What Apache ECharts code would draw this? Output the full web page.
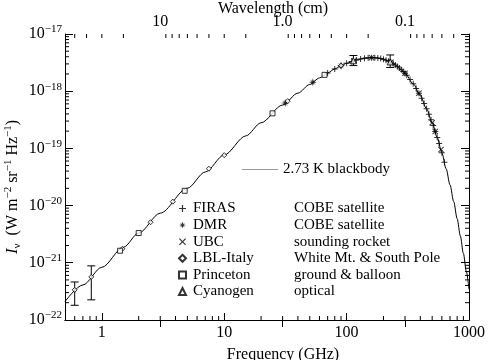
<!DOCTYPE html>
<html>
<head>
<meta charset="utf-8">
<script src="https://cdn.jsdelivr.net/npm/echarts@6/dist/echarts.min.js"></script>
<style>html,body{margin:0;padding:0;background:#fff}#main{width:488px;height:360px}</style>
</head>
<body>
<div id="main"></div>
<script>
// 2.73 K blackbody curve (GHz, W m^-2 sr^-1 Hz^-1)
const curveFreq = [0.5, 0.7, 1, 1.5, 2, 3, 5, 7, 10, 15, 20, 30, 40, 50, 60, 70, 80, 90, 100, 120, 140, 160, 180, 200, 220, 250, 280, 300, 350, 400, 450, 500, 550, 600, 650, 700, 750, 800, 850, 900, 950, 1000];
const curveIntensity = [2.09e-22, 4.08e-22, 8.31e-22, 1.86e-21, 3.30e-21, 7.35e-21, 2.01e-20, 3.86e-20, 7.67e-20, 1.65e-19, 2.80e-19, 5.73e-19, 9.25e-19, 1.309e-18, 1.702e-18, 2.087e-18, 2.450e-18, 2.780e-18, 3.071e-18, 3.517e-18, 3.774e-18, 3.857e-18, 3.792e-18, 3.613e-18, 3.353e-18, 2.878e-18, 2.374e-18, 2.050e-18, 1.348e-18, 8.35e-19, 4.93e-19, 2.81e-19, 1.55e-19, 8.36e-20, 4.41e-20, 2.29e-20, 1.17e-20, 5.89e-21, 2.93e-21, 1.45e-21, 7.07e-22, 3.42e-22];

const firasFreq = [70, 80, 90, 100, 110, 120, 130, 140, 150, 160, 170, 180, 190, 200, 210, 220, 230, 240, 250, 260, 270, 280, 290, 300, 310, 330, 350, 370, 390, 410, 430, 450, 470, 490, 510, 530, 550, 570, 600, 630];
const firasIntensity = [2.087e-18, 2.450e-18, 2.780e-18, 3.071e-18, 3.317e-18, 3.517e-18, 3.668e-18, 3.774e-18, 3.837e-18, 3.857e-18, 3.841e-18, 3.792e-18, 3.715e-18, 3.613e-18, 3.491e-18, 3.353e-18, 3.202e-18, 3.043e-18, 2.878e-18, 2.710e-18, 2.541e-18, 2.374e-18, 2.210e-18, 2.050e-18, 1.896e-18, 1.607e-18, 1.348e-18, 1.119e-18, 9.22e-19, 7.53e-19, 6.11e-19, 4.93e-19, 3.95e-19, 3.15e-19, 2.50e-19, 1.97e-19, 1.55e-19, 1.21e-19, 8.36e-20, 5.71e-20];

const dmrFreq = [31.5, 53, 90];
const dmrIntensity = [6.23e-19, 1.43e-18, 2.78e-18];

const ubcFreq = [115, 160, 230, 300, 390, 500, 530, 590];
const ubcIntensity = [3.40e-18, 3.86e-18, 3.20e-18, 2.05e-18, 9.2e-19, 2.8e-19, 1.97e-19, 9.5e-20];

const lblFreq = [0.6, 0.82, 1.47, 2.5, 3.8, 7.5, 10, 33, 90];
const lblIntensity = [3.35e-22, 5.65e-22, 1.75e-21, 5.1e-21, 1.17e-20, 4.4e-20, 7.6e-20, 6.7e-19, 2.8e-18];

const princetonFreq = [1.41, 2.0, 4.75, 24.8, 66];
const princetonIntensity = [1.62e-21, 3.3e-21, 1.81e-20, 4.1e-19, 1.93e-18];

const cyanogenFreq = [113.6, 227];
const cyanogenIntensity = [3.4e-18, 3.25e-18];

// error bars
const errFreq = [0.6, 0.82, 113.6, 227];
const errLow = [1.8e-22, 2.24e-22, 2.8e-18, 2.6e-18];
const errHigh = [4.6e-22, 8.8e-22, 4.2e-18, 4.3e-18];

const datasetNames = ['FIRAS', 'DMR', 'UBC', 'LBL-Italy', 'Princeton', 'Cyanogen'];
const datasetNotes = ['COBE satellite', 'COBE satellite', 'sounding rocket', 'White Mt. & South Pole', 'ground & balloon', 'optical'];

// minor ticks
const freqMinorTicks = [0.6, 0.7, 0.8, 0.9, 2, 3, 4, 5, 6, 7, 8, 9, 20, 30, 40, 50, 60, 70, 80, 90, 200, 300, 400, 500, 600, 700, 800, 900];
const waveMinorTicks = [50, 40, 30, 20, 9, 8, 7, 6, 5, 4, 3, 2, 0.9, 0.8, 0.7, 0.6, 0.5, 0.4, 0.3, 0.2, 0.09, 0.08, 0.07, 0.06, 0.05, 0.04];
const intensityMinorTicks = [
    2e-22, 3e-22, 4e-22, 5e-22, 6e-22, 7e-22, 8e-22, 9e-22,
    2e-21, 3e-21, 4e-21, 5e-21, 6e-21, 7e-21, 8e-21, 9e-21,
    2e-20, 3e-20, 4e-20, 5e-20, 6e-20, 7e-20, 8e-20, 9e-20,
    2e-19, 3e-19, 4e-19, 5e-19, 6e-19, 7e-19, 8e-19, 9e-19,
    2e-18, 3e-18, 4e-18, 5e-18, 6e-18, 7e-18, 8e-18, 9e-18
];

const font = 'Liberation Serif';

function zip(a, b) {
    return a.map((v, i) => [v, b[i]]);
}

const plusPath = 'path://M5,0H7V5H12V7H7V12H5V7H0V5H5Z';
const crossPath = 'path://M0,1.4L1.4,0L6,4.6L10.6,0L12,1.4L7.4,6L12,10.6L10.6,12L6,7.4L1.4,12L0,10.6L4.6,6Z';
const starPath = 'path://M6,0L7.2,4.2L10.6,1.4L7.8,4.8L12,6L7.8,7.2L10.6,10.6L7.2,7.8L6,12L4.8,7.8L1.4,10.6L4.2,7.2L0,6L4.2,4.8L1.4,1.4L4.8,4.2Z';
const hollow = {color: '#fff', borderColor: '#000', borderWidth: 1};

var myChart = echarts.init(document.getElementById('main'));

function tickLine(x1, y1, x2, y2) {
    return {type: 'line', shape: {x1: x1, y1: y1, x2: x2, y2: y2}, style: {stroke: '#000', lineWidth: 1}};
}

var option = {
    backgroundColor: '#fff',
    animation: false,
    grid: {left: 65, right: 19, top: 34, bottom: 40, outerBoundsMode: 'none'},
    legend: [{
        data: [{name: '2.73 K blackbody', icon: 'rect', itemStyle: {color: '#999'}}],
        left: 237, top: 157,
        itemWidth: 36, itemHeight: 1,
        textStyle: {fontFamily: font, fontSize: 15, color: '#000'}
    }, {
        data: datasetNames,
        orient: 'vertical',
        left: 178, top: 201,
        padding: 0,
        itemWidth: 7, itemHeight: 7, itemGap: 1.6,
        formatter: name => '{n|' + name + '}{d|' + datasetNotes[datasetNames.indexOf(name)] + '}',
        textStyle: {
            fontFamily: font, fontSize: 15, color: '#000',
            rich: {
                n: {width: 101, fontFamily: font, fontSize: 15, lineHeight: 16, padding: [0, 0, 0, 2]},
                d: {fontFamily: font, fontSize: 15, lineHeight: 16}
            }
        }
    }],
    xAxis: [{
        type: 'log', logBase: 10, min: 0.5, max: 1000,
        position: 'bottom',
        name: 'Frequency (GHz)', nameLocation: 'middle', nameGap: 27, nameMoveOverlap: false,
        nameTextStyle: {fontFamily: font, fontSize: 16, color: '#000', padding: [0, 0, 0, 32]},
        axisLine: {lineStyle: {color: '#000', width: 1}},
        axisTick: {inside: true, length: 7, lineStyle: {color: '#000'}},
        axisLabel: {fontFamily: font, fontSize: 16, color: '#000', margin: 5, showMinLabel: false, showMaxLabel: true,
            formatter: v => String(Math.round(v))},
        splitLine: {show: false}
    }, {
        type: 'log', logBase: 10, min: 0.03, max: 60, inverse: true,
        position: 'top',
        name: 'Wavelength (cm)', nameLocation: 'middle', nameGap: 17, nameMoveOverlap: false,
        nameTextStyle: {fontFamily: font, fontSize: 16, color: '#000', padding: [0, 0, 0, 12]},
        axisLine: {lineStyle: {color: '#000', width: 1}},
        axisTick: {inside: true, length: 7, lineStyle: {color: '#000'}},
        axisLabel: {fontFamily: font, fontSize: 16, color: '#000', margin: 4, showMinLabel: false, showMaxLabel: false,
            formatter: v => v >= 10 ? String(Math.round(v)) : v.toFixed(1)},
        splitLine: {show: false}
    }],
    yAxis: [{
        type: 'log', logBase: 10, min: 0.995e-22, max: 1e-17,
        position: 'left',
        name: '{i|I}{s|ν}  (W m{e|−2} sr{e|−1} Hz{e|−1})',
        nameLocation: 'middle', nameGap: 42, nameMoveOverlap: false,
        nameTextStyle: {
            fontFamily: font, fontSize: 16, color: '#000', padding: [0, 20, 0, 0],
            rich: {
                i: {fontFamily: font, fontSize: 17, fontStyle: 'italic'},
                s: {fontFamily: font, fontSize: 11, verticalAlign: 'top', padding: [9, 0, 0, 0]},
                e: {fontFamily: font, fontSize: 11, verticalAlign: 'bottom', padding: [0, 0, 9, 0]}
            }
        },
        axisLine: {lineStyle: {color: '#000', width: 1}},
        axisTick: {inside: true, length: 8, lineStyle: {color: '#000'}},
        axisLabel: {
            fontFamily: font, fontSize: 16, color: '#000', margin: 3,
            showMinLabel: false, showMaxLabel: true,
            formatter: v => '10{e|−' + (-Math.round(Math.log10(v))) + '}',
            rich: {e: {fontFamily: font, fontSize: 11, verticalAlign: 'bottom', padding: [0, 0, 9, 0]}}
        },
        splitLine: {show: false}
    }, {
        type: 'log', logBase: 10, min: 0.995e-22, max: 1e-17,
        position: 'right',
        axisLine: {lineStyle: {color: '#000', width: 1}},
        axisTick: {inside: true, length: 8, lineStyle: {color: '#000'}},
        axisLabel: {show: false},
        splitLine: {show: false}
    }],
    series: [{
        name: '2.73 K blackbody',
        type: 'line',
        data: zip(curveFreq, curveIntensity),
        symbol: 'none',
        smooth: 0.3,
        smoothMonotone: 'x',
        lineStyle: {color: '#000', width: 1},
        itemStyle: {color: '#000'},
        z: 2
    }, {
        name: 'FIRAS', type: 'scatter', data: zip(firasFreq, firasIntensity),
        symbol: plusPath, symbolSize: 6, itemStyle: {color: '#000'}, z: 3
    }, {
        name: 'DMR', type: 'scatter', data: zip(dmrFreq, dmrIntensity),
        symbol: starPath, symbolSize: 8, itemStyle: {color: '#000'}, z: 3
    }, {
        name: 'UBC', type: 'scatter', data: zip(ubcFreq, ubcIntensity),
        symbol: crossPath, symbolSize: 6, itemStyle: {color: '#000'}, z: 3
    }, {
        name: 'LBL-Italy', type: 'scatter', data: zip(lblFreq, lblIntensity),
        symbol: 'diamond', symbolSize: 5, itemStyle: hollow, z: 4
    }, {
        name: 'Princeton', type: 'scatter', data: zip(princetonFreq, princetonIntensity),
        symbol: 'rect', symbolSize: 5, itemStyle: hollow, z: 4
    }, {
        name: 'Cyanogen', type: 'scatter', data: zip(cyanogenFreq, cyanogenIntensity),
        symbol: 'triangle', symbolSize: 6, itemStyle: hollow, z: 4
    }, {
        type: 'custom', silent: true, z: 3,
        data: errFreq.map((f, i) => [f, errLow[i], errHigh[i]]),
        encode: {x: 0, y: [1, 2]},
        renderItem: function (params, api) {
            const lo = api.coord([api.value(0), api.value(1)]);
            const hi = api.coord([api.value(0), api.value(2)]);
            return {type: 'group', children: [
                tickLine(lo[0], lo[1], hi[0], hi[1]),
                tickLine(lo[0] - 4, lo[1], lo[0] + 4, lo[1]),
                tickLine(hi[0] - 4, hi[1], hi[0] + 4, hi[1])
            ]};
        }
    }, {
        type: 'custom', silent: true, z: 5,
        data: freqMinorTicks.map(v => [v, 1e-20]),
        renderItem: function (params, api) {
            const cs = params.coordSys;
            const x = api.coord([api.value(0), 1e-20])[0];
            return tickLine(x, cs.y + cs.height, x, cs.y + cs.height - 4);
        }
    }, {
        type: 'custom', silent: true, z: 5, xAxisIndex: 1,
        data: waveMinorTicks.map(v => [v, 1e-20]),
        renderItem: function (params, api) {
            const cs = params.coordSys;
            const x = api.coord([api.value(0), 1e-20])[0];
            return tickLine(x, cs.y, x, cs.y + 4);
        }
    }, {
        type: 'custom', silent: true, z: 5,
        data: intensityMinorTicks.map(v => [1, v]),
        renderItem: function (params, api) {
            const cs = params.coordSys;
            const y = api.coord([1, api.value(1)])[1];
            return {type: 'group', children: [
                tickLine(cs.x, y, cs.x + 4, y),
                tickLine(cs.x + cs.width, y, cs.x + cs.width - 4, y)
            ]};
        }
    }]
};

myChart.setOption(option);
</script>
</body>
</html>
